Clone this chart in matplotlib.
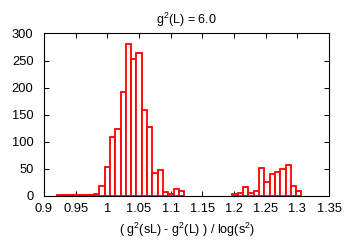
import matplotlib
matplotlib.use("Agg")
import matplotlib.pyplot as plt
import numpy as np

plt.rcParams['font.family'] = ['Liberation Sans', 'DejaVu Sans']
plt.rcParams['mathtext.fontset'] = 'custom'
plt.rcParams['mathtext.rm'] = 'Liberation Sans'

bin_start = 0.92
bin_width = 0.0084
counts = [1, 1, 1, 1, 1, 1, 1, 3,
          19, 54, 109, 123, 192, 281, 252, 263, 159, 127, 43, 47, 7, 3, 12, 9,
          0, 0, 0, 0, 0, 0, 0, 0, 0,
          4, 5, 17, 5, 10, 52, 26, 40, 45, 50, 58, 18, 9]
xticks = [0.9, 0.95, 1, 1.05, 1.1, 1.15, 1.2, 1.25, 1.3, 1.35]
xtick_labels = ['0.9', '0.95', '1', '1.05', '1.1', '1.15', '1.2', '1.25', '1.3', '1.35']
yticks = [0, 50, 100, 150, 200, 250, 300]

counts = np.array(counts)
edges = bin_start + bin_width * np.arange(len(counts))
mask = counts > 0

fig = plt.figure(figsize=(3.49, 2.44), dpi=100)
ax = fig.add_axes([0.126, 0.197, 0.817, 0.666])
ax.bar(edges[mask], counts[mask], width=bin_width, align='edge',
       facecolor='white', edgecolor='#ff0000', linewidth=1.3, zorder=2)
ax.set_xlim(0.9, 1.35)
ax.set_ylim(0, 300)
ax.set_xticks(xticks)
ax.set_xticklabels(xtick_labels)
ax.set_yticks(yticks)
ax.tick_params(direction='in', top=True, right=True, length=3.5, width=0.7,
               labelsize=9.3)
ax.tick_params(axis='x', pad=5)
ax.tick_params(axis='y', pad=7.5)
for s in ax.spines.values():
    s.set_linewidth(0.8)
ax.set_title('g$^{\\mathrm{2}}$(L) = 6.0', fontsize=9, pad=7)
ax.set_xlabel('( g$^{\\mathrm{2}}$(sL) - g$^{\\mathrm{2}}$(L) ) / log(s$^{\\mathrm{2}}$)',
              fontsize=9, labelpad=4)
fig.savefig('out.png', dpi=100)
